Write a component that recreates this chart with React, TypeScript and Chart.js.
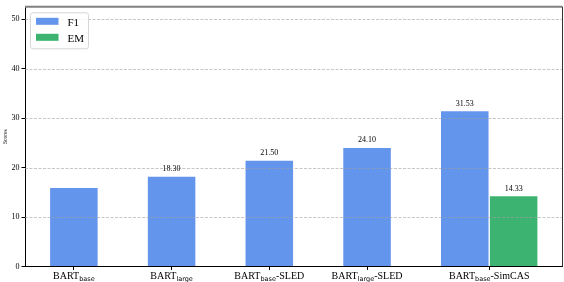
import React, { useEffect, useRef } from "react";
import { Chart, registerables } from "chart.js";

Chart.register(...registerables);

const categoryMain = ["BART", "BART", "BART", "BART", "BART"];
const categorySub = ["base", "large", "base", "large", "base"];
const categorySuffix = ["", "", "-SLED", "-SLED", "-SimCAS"];
const f1Values = [16.0, 18.3, 21.5, 24.1, 31.53];
const f1Shown = [false, true, true, true, true];
const emValues: (number | null)[] = [null, null, null, null, 14.33];
const yTicks = [0, 10, 20, 30, 40, 50];

const SERIF = "'Liberation Serif', 'DejaVu Serif', serif";
const SANS = "'DejaVu Sans', sans-serif";
const F1_COLOR = "#6495ED";
const EM_COLOR = "#3CB371";
const BAR_W = 0.5;

const tickPositions = categoryMain.map((_, i) => (emValues[i] != null ? i + BAR_W / 2 : i));

const overlay = {
  id: "overlay",
  afterDatasetsDraw(chart: any) {
    const ctx = chart.ctx;
    const area = chart.chartArea;
    const y = chart.scales.y;
    const xt = chart.scales.xt;
    ctx.save();
    // dashed grid over bars
    ctx.strokeStyle = "rgba(160,160,160,0.75)";
    ctx.lineWidth = 0.8;
    ctx.setLineDash([3, 1.5]);
    yTicks.forEach((v) => {
      if (v === 0) return;
      const py = Math.round(y.getPixelForValue(v)) + 0.5;
      ctx.beginPath();
      ctx.moveTo(area.left, py);
      ctx.lineTo(area.right, py);
      ctx.stroke();
    });
    ctx.setLineDash([]);

    // top and right spines
    ctx.strokeStyle = "#808080";
    ctx.lineWidth = 2;
    ctx.beginPath();
    ctx.moveTo(area.left, area.top);
    ctx.lineTo(area.right, area.top);
    ctx.stroke();
    ctx.strokeStyle = "#333";
    ctx.lineWidth = 1;
    ctx.beginPath();
    ctx.moveTo(area.right, area.top);
    ctx.lineTo(area.right, area.bottom);
    ctx.stroke();

    // value labels
    ctx.fillStyle = "#000";
    ctx.font = `8px ${SERIF}`;
    ctx.textAlign = "center";
    ctx.textBaseline = "alphabetic";
    const m0 = chart.getDatasetMeta(0);
    m0.data.forEach((bar: any, i: number) => {
      if (!f1Shown[i]) return;
      ctx.fillText(f1Values[i].toFixed(2), bar.x, bar.y - 5);
    });
    const m1 = chart.getDatasetMeta(1);
    const emPts = chart.data.datasets[1].data as any[];
    m1.data.forEach((bar: any, i: number) => {
      ctx.fillText(Number(emPts[i].y).toFixed(2), bar.x, bar.y - 5);
    });

    // x tick labels with subscripts
    const mainFont = `10px ${SERIF}`;
    const subFont = `6.5px ${SANS}`;
    tickPositions.forEach((v, i) => {
      ctx.font = mainFont;
      const w1 = ctx.measureText(categoryMain[i]).width;
      const w3 = ctx.measureText(categorySuffix[i]).width;
      ctx.font = subFont;
      const w2 = ctx.measureText(categorySub[i]).width;
      const total = w1 + w2 + w3;
      const cx = xt.getPixelForValue(v);
      const x0 = cx - total / 2;
      const base = area.bottom + 12.5;
      ctx.textAlign = "left";
      ctx.font = mainFont;
      ctx.fillText(categoryMain[i], x0, base);
      ctx.font = subFont;
      ctx.fillText(categorySub[i], x0 + w1, base + 1.8);
      ctx.font = mainFont;
      ctx.fillText(categorySuffix[i], x0 + w1 + w2, base);
    });

    // legend
    const lx = area.left + 5.5;
    const ly = area.top + 6;
    const lw = 58;
    const lh = 36;
    ctx.fillStyle = "rgba(255,255,255,0.85)";
    ctx.strokeStyle = "#d6d6d6";
    ctx.lineWidth = 1;
    ctx.beginPath();
    ctx.roundRect(lx, ly, lw, lh, 2.5);
    ctx.fill();
    ctx.stroke();
    ctx.font = `11px ${SERIF}`;
    ctx.textAlign = "left";
    chart.data.datasets.forEach((ds: any, i: number) => {
      const sy = ly + 5 + i * 16;
      ctx.fillStyle = ds.backgroundColor;
      ctx.fillRect(lx + 5.5, sy, 22.5, 7);
      ctx.fillStyle = "#000";
      ctx.fillText(ds.label, lx + 37, sy + 7.8);
    });
    ctx.restore();
  },
};

export default function App() {
  const ref = useRef<HTMLCanvasElement>(null);
  useEffect(() => {
    document.body.style.margin = "0";
    const f1Data = f1Values.map((v, i) => ({ x: i, y: v }));
    const emData = emValues
      .map((v, i) => (v == null ? null : { x: i + BAR_W, y: v }))
      .filter((p) => p != null);
    const chart = new Chart(ref.current!, {
      type: "bar",
      data: {
        datasets: [
          {
            label: "F1",
            data: f1Data as any,
            backgroundColor: F1_COLOR,
            borderColor: "rgba(255,255,255,0.55)",
            borderWidth: 1,
            grouped: false,
            categoryPercentage: 1,
            barPercentage: 1,
          } as any,
          {
            label: "EM",
            data: emData as any,
            backgroundColor: EM_COLOR,
            borderColor: "rgba(255,255,255,0.55)",
            borderWidth: 1,
            grouped: false,
            categoryPercentage: 1,
            barPercentage: 1,
          } as any,
        ],
      },
      options: {
        animation: false,
        responsive: false,
        devicePixelRatio: 1,
        layout: { padding: { left: 0, right: 1.5, top: 1.5, bottom: 0 } },
        plugins: { legend: { display: false }, tooltip: { enabled: false } },
        scales: {
          x: {
            type: "linear",
            min: -0.5,
            max: 5,
            display: false,
            offset: false,
            ticks: { stepSize: 1 },
            grid: { offset: false },
          },
          xt: {
            type: "linear",
            position: "bottom",
            min: -0.5,
            max: 5,
            offset: false,
            afterBuildTicks: (s: any) => {
              s.ticks = tickPositions.map((v) => ({ value: v }));
            },
            afterFit: (s: any) => {
              s.height = 15.5;
            },
            ticks: { display: false, autoSkip: false },
            grid: { offset: false, drawOnChartArea: false, drawTicks: true, tickLength: 3.5, color: "#000", lineWidth: 1 },
            border: { display: true, color: "#000", width: 1 },
          },
          y: {
            type: "linear",
            min: 0,
            max: 52.5,
            afterBuildTicks: (s: any) => {
              s.ticks = yTicks.map((v) => ({ value: v }));
            },
            afterFit: (s: any) => {
              s.width = 25;
            },
            ticks: { font: { family: SERIF, size: 8 }, color: "#000", padding: 2 },
            grid: { offset: false, drawOnChartArea: false, drawTicks: true, tickLength: 3.5, color: "#000", lineWidth: 1 },
            border: { display: true, color: "#000", width: 1 },
            title: {
              display: true,
              text: "Scores",
              font: { family: SERIF, size: 5.5 },
              color: "#000",
              padding: { top: 2, bottom: 0 },
            },
          },
        } as any,
      },
      plugins: [overlay],
    });
    return () => chart.destroy();
  }, []);
  return (
    <div style={{ width: 564, height: 282 }}>
      <canvas ref={ref} width={564} height={282} />
    </div>
  );
}
